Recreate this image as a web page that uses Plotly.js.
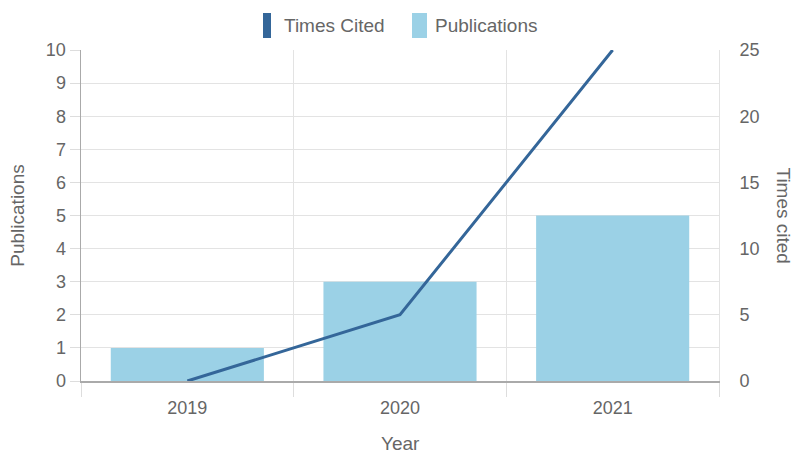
<!DOCTYPE html>
<html>
<head>
<meta charset="utf-8">
<script src="https://cdn.plot.ly/plotly-3.0.1.min.js"></script>
<style>html,body{margin:0;padding:0;background:#fff}#chart{width:793px;height:455px}</style>
</head>
<body>
<div id="chart"></div>
<script>
const years = ["2019", "2020", "2021"];
const publications = [1, 3, 5];
const timesCited = [0, 5, 25];
const legendLabels = ["Times Cited", "Publications"];

const FONT = "Liberation Sans, Arial, sans-serif";
const GREY = "#666666";
const barColor = "#9bd1e6";
const lineColor = "#346699";

// plot-area geometry in pixels (for the hand-drawn legend and titles)
const L = 81, R = 719, T = 50, B = 381;
const px = x => (x - L) / (R - L);
const py = y => (B - y) / (B - T);

const traces = [
  {
    type: "bar", name: "Publications", x: years, y: publications,
    marker: {color: barColor}, hoverinfo: "skip"
  },
  {
    type: "scatter", mode: "lines", name: "Times Cited",
    x: years, y: timesCited, yaxis: "y2",
    line: {color: lineColor, width: 3}, hoverinfo: "skip"
  }
];

const legendFont = {family: FONT, size: 19, color: GREY};

const layout = {
  width: 793, height: 455,
  margin: {l: L, r: 793 - R, t: T, b: 455 - B, autoexpand: false},
  paper_bgcolor: "#fff", plot_bgcolor: "#fff",
  font: {family: FONT, size: 18, color: GREY},
  barmode: "overlay", bargap: 0.28,
  showlegend: false,
  xaxis: {
    type: "category", tickson: "boundaries", range: [-0.5, 2.5],
    ticks: "outside", ticklen: 14, tickcolor: "#dddddd",
    showgrid: true, gridcolor: "#e3e3e3",
    showline: true, linecolor: "#aaaaaa", linewidth: 1.5,
    tickfont: {size: 18, color: GREY}, ticklabelstandoff: 10,
    title: {text: ""}
  },
  yaxis: {
    range: [0, 10], dtick: 1, ticks: "outside", ticklen: 10, tickcolor: "#dddddd",
    showgrid: true, gridcolor: "#e3e3e3", zeroline: false,
    showline: true, linecolor: "#aaaaaa", linewidth: 1.5,
    tickfont: {size: 18, color: GREY},
    title: {text: "Publications", font: {size: 19, color: GREY}, standoff: 16}
  },
  yaxis2: {
    overlaying: "y", side: "right", range: [0, 25], dtick: 5,
    showgrid: false, zeroline: false, ticks: "",
    showline: true, linecolor: "#e3e3e3", linewidth: 1,
    tickfont: {size: 18, color: GREY}, ticklabelstandoff: 16
  },
  shapes: [
    {type: "rect", xref: "paper", yref: "paper", x0: px(263), x1: px(271), y0: py(38), y1: py(13),
     fillcolor: lineColor, line: {width: 0}},
    {type: "rect", xref: "paper", yref: "paper", x0: px(412), x1: px(427), y0: py(38), y1: py(13),
     fillcolor: barColor, line: {width: 0}}
  ],
  annotations: [
    {text: "Times cited", xref: "paper", yref: "paper", x: px(783), y: 0.5,
     showarrow: false, textangle: 90, font: {family: FONT, size: 19, color: GREY},
     xanchor: "center", yanchor: "middle"},
    {text: "Year", xref: "paper", yref: "paper", x: 0.5, y: py(455),
     showarrow: false, font: {family: FONT, size: 19, color: GREY},
     xanchor: "center", yanchor: "bottom", borderpad: 0},
    {text: legendLabels[0], xref: "paper", yref: "paper", x: px(282), y: py(25),
     xanchor: "left", yanchor: "middle", showarrow: false, font: legendFont},
    {text: legendLabels[1], xref: "paper", yref: "paper", x: px(433), y: py(25),
     xanchor: "left", yanchor: "middle", showarrow: false, font: legendFont}
  ]
};

Plotly.newPlot("chart", traces, layout, {staticPlot: true, displayModeBar: false});
</script>
</body>
</html>
